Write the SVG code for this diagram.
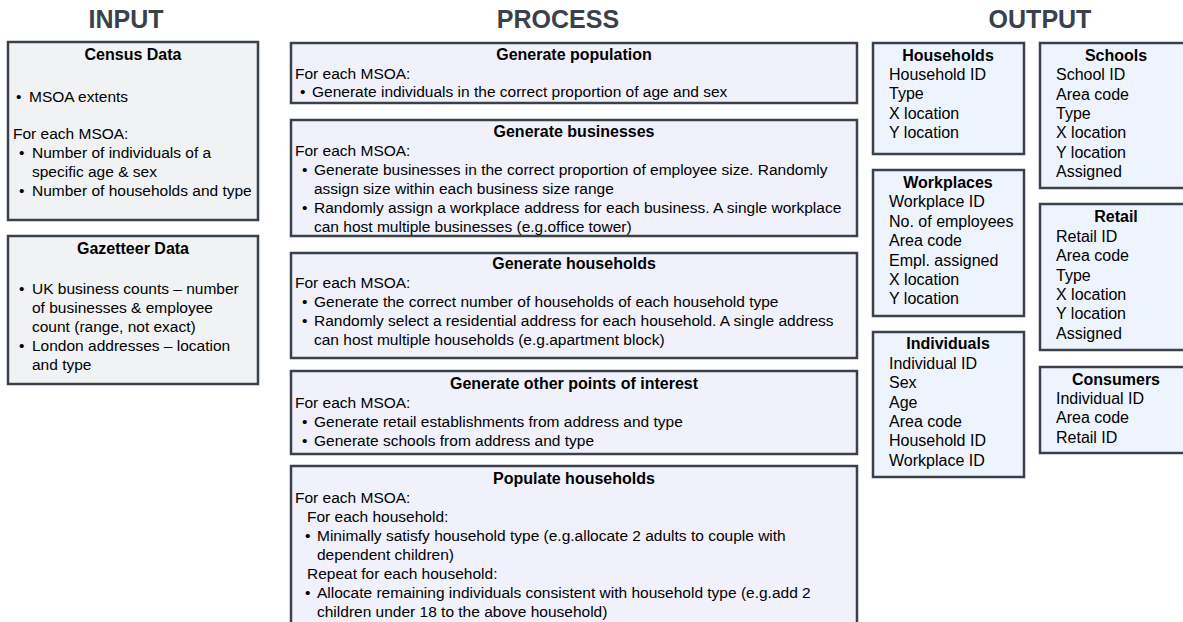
<svg xmlns="http://www.w3.org/2000/svg" width="1183" height="622" viewBox="0 0 1183 622">
<style>
.hd{font-family:"Liberation Sans",Arial,sans-serif;font-size:25px;font-weight:bold;fill:#3a414b;text-anchor:middle}
.box{stroke:#3a414b;stroke-width:2.5}
.in{fill:#f1f2f4}
.pr{fill:#f1f1fc}
.out{fill:#eef4fd}
.t{font-family:"Liberation Sans",Arial,sans-serif;font-size:16px;font-weight:bold;fill:#000;text-anchor:middle}
.b{font-family:"Liberation Sans",Arial,sans-serif;font-size:15.5px;fill:#000}
.o{font-family:"Liberation Sans",Arial,sans-serif;font-size:16px;fill:#000}
</style>
<rect width="1183" height="622" fill="#ffffff"/>
<text class="hd" x="126" y="28">INPUT</text>
<text class="hd" x="558" y="28">PROCESS</text>
<text class="hd" x="1040" y="28">OUTPUT</text>

<g id="census">
<rect class="box in" x="8" y="42" width="250" height="178"/>
<text class="t" x="133" y="60">Census Data</text>
<text class="b" y="102"><tspan x="16">•</tspan><tspan x="29">MSOA extents</tspan></text>
<text class="b" x="13" y="139">For each MSOA:</text>
<text class="b" y="158"><tspan x="19">•</tspan><tspan x="32">Number of individuals of a</tspan></text>
<text class="b" x="32" y="177">specific age &amp; sex</text>
<text class="b" y="196"><tspan x="19">•</tspan><tspan x="32">Number of households and type</tspan></text>
</g>

<g id="gazetteer">
<rect class="box in" x="8" y="236" width="250" height="148"/>
<text class="t" x="133" y="254">Gazetteer Data</text>
<text class="b" y="294"><tspan x="19">•</tspan><tspan x="32">UK business counts – number</tspan></text>
<text class="b" x="32" y="313">of businesses &amp; employee</text>
<text class="b" x="32" y="332">count (range, not exact)</text>
<text class="b" y="351"><tspan x="19">•</tspan><tspan x="32">London addresses – location</tspan></text>
<text class="b" x="32" y="370">and type</text>
</g>

<g id="gen-population">
<rect class="box pr" x="291" y="43" width="566" height="60"/>
<text class="t" x="574" y="60">Generate population</text>
<text class="b" x="295" y="79">For each MSOA:</text>
<text class="b" y="97"><tspan x="300">•</tspan><tspan x="312">Generate individuals in the correct proportion of age and sex</tspan></text>
</g>

<g id="gen-businesses">
<rect class="box pr" x="291" y="120" width="566" height="116"/>
<text class="t" x="574" y="137">Generate businesses</text>
<text class="b" x="295" y="156">For each MSOA:</text>
<text class="b" y="175"><tspan x="302">•</tspan><tspan x="314">Generate businesses in the correct proportion of employee size. Randomly</tspan></text>
<text class="b" x="314" y="194">assign size within each business size range</text>
<text class="b" y="213"><tspan x="302">•</tspan><tspan x="314">Randomly assign a workplace address for each business. A single workplace</tspan></text>
<text class="b" x="314" y="232">can host multiple businesses (e.g.office tower)</text>
</g>

<g id="gen-households">
<rect class="box pr" x="291" y="253" width="566" height="105"/>
<text class="t" x="574" y="269">Generate households</text>
<text class="b" x="295" y="288">For each MSOA:</text>
<text class="b" y="307"><tspan x="302">•</tspan><tspan x="314">Generate the correct number of households of each household type</tspan></text>
<text class="b" y="326"><tspan x="302">•</tspan><tspan x="314">Randomly select a residential address for each household. A single address</tspan></text>
<text class="b" x="314" y="345">can host multiple households (e.g.apartment block)</text>
</g>

<g id="gen-poi">
<rect class="box pr" x="291" y="371" width="566" height="83"/>
<text class="t" x="574" y="389">Generate other points of interest</text>
<text class="b" x="295" y="408">For each MSOA:</text>
<text class="b" y="427"><tspan x="302">•</tspan><tspan x="314">Generate retail establishments from address and type</tspan></text>
<text class="b" y="446"><tspan x="302">•</tspan><tspan x="314">Generate schools from address and type</tspan></text>
</g>

<g id="populate">
<rect class="box pr" x="291" y="466" width="566" height="170"/>
<text class="t" x="574" y="484">Populate households</text>
<text class="b" x="295" y="503">For each MSOA:</text>
<text class="b" x="307" y="522">For each household:</text>
<text class="b" y="541"><tspan x="305">•</tspan><tspan x="317">Minimally satisfy household type (e.g.allocate 2 adults to couple with</tspan></text>
<text class="b" x="317" y="560">dependent children)</text>
<text class="b" x="307" y="579">Repeat for each household:</text>
<text class="b" y="598"><tspan x="305">•</tspan><tspan x="317">Allocate remaining individuals consistent with household type (e.g.add 2</tspan></text>
<text class="b" x="317" y="617">children under 18 to the above household)</text>
</g>

<g id="households">
<rect class="box out" x="873" y="43" width="151" height="111"/>
<text class="t" x="948" y="61">Households</text>
<text class="o" x="889" y="80">Household ID</text>
<text class="o" x="889" y="99">Type</text>
<text class="o" x="889" y="119">X location</text>
<text class="o" x="889" y="138">Y location</text>
</g>

<g id="workplaces">
<rect class="box out" x="873" y="170" width="151" height="146"/>
<text class="t" x="948" y="188">Workplaces</text>
<text class="o" x="889" y="207">Workplace ID</text>
<text class="o" x="889" y="227">No. of employees</text>
<text class="o" x="889" y="246">Area code</text>
<text class="o" x="889" y="266">Empl. assigned</text>
<text class="o" x="889" y="285">X location</text>
<text class="o" x="889" y="304">Y location</text>
</g>

<g id="individuals">
<rect class="box out" x="873" y="332" width="151" height="145"/>
<text class="t" x="948" y="349">Individuals</text>
<text class="o" x="889" y="369">Individual ID</text>
<text class="o" x="889" y="388">Sex</text>
<text class="o" x="889" y="408">Age</text>
<text class="o" x="889" y="427">Area code</text>
<text class="o" x="889" y="446">Household ID</text>
<text class="o" x="889" y="466">Workplace ID</text>
</g>

<g id="schools">
<rect class="box out" x="1040" y="43" width="151" height="145"/>
<text class="t" x="1116" y="61">Schools</text>
<text class="o" x="1056" y="80">School ID</text>
<text class="o" x="1056" y="100">Area code</text>
<text class="o" x="1056" y="119">Type</text>
<text class="o" x="1056" y="138">X location</text>
<text class="o" x="1056" y="158">Y location</text>
<text class="o" x="1056" y="177">Assigned</text>
</g>

<g id="retail">
<rect class="box out" x="1040" y="204" width="151" height="146"/>
<text class="t" x="1116" y="222">Retail</text>
<text class="o" x="1056" y="242">Retail ID</text>
<text class="o" x="1056" y="261">Area code</text>
<text class="o" x="1056" y="281">Type</text>
<text class="o" x="1056" y="300">X location</text>
<text class="o" x="1056" y="319">Y location</text>
<text class="o" x="1056" y="339">Assigned</text>
</g>

<g id="consumers">
<rect class="box out" x="1040" y="367" width="151" height="86"/>
<text class="t" x="1116" y="385">Consumers</text>
<text class="o" x="1056" y="404">Individual ID</text>
<text class="o" x="1056" y="423">Area code</text>
<text class="o" x="1056" y="443">Retail ID</text>
</g>

<g id="connectors"></g>
</svg>
